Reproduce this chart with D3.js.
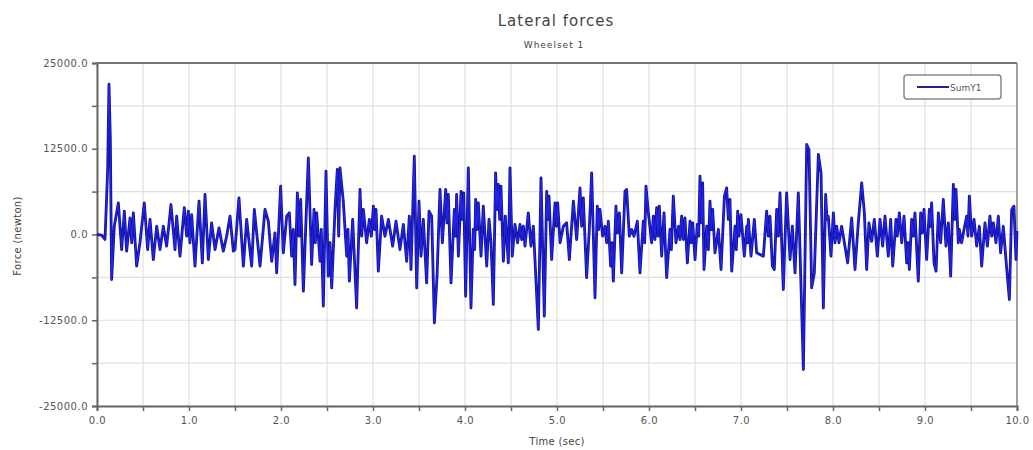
<!DOCTYPE html>
<html><head><meta charset="utf-8">
<script src="https://cdn.jsdelivr.net/npm/d3@7"></script>
<style>
html,body{margin:0;padding:0;background:#fff;}
svg{display:block;font-family:"DejaVu Sans",sans-serif;}
</style></head>
<body>
<svg id="chart" width="1033" height="450"></svg>
<script>
const title = "Lateral forces";
const subtitle = "Wheelset 1";
const xLabel = "Time (sec)";
const yLabel = "Force (newton)";
const seriesName = "SumY1";
const xTicks = [0,1,2,3,4,5,6,7,8,9,10];
const xMinorTicks = [0,0.5,1,1.5,2,2.5,3,3.5,4,4.5,5,5.5,6,6.5,7,7.5,8,8.5,9,9.5,10];
const yTicks = [25000,12500,0,-12500,-25000];
const yMinorTicks = [25000,18750,12500,6250,0,-6250,-12500,-18750,-25000];

const timeSec = [
0.000,0.050,0.087,0.116,0.130,0.145,0.159,0.188,0.232,0.268,0.297,0.322,0.359,0.377,0.395,0.431,0.467,0.514,0.551,0.576,
0.612,0.649,0.685,0.721,0.757,0.804,0.848,0.866,0.902,0.949,0.975,0.993,1.010,1.029,1.065,1.109,1.145,1.174,1.210,1.246,
1.283,1.326,1.373,1.409,1.446,1.482,1.500,1.543,1.591,1.627,1.681,1.710,
1.772,1.826,1.862,1.899,1.935,1.953,1.996,2.025,2.062,2.091,2.116,2.134,2.152,2.178,2.196,2.214,2.243,2.297,2.333,2.359,
2.373,2.388,2.424,2.438,2.460,2.489,2.514,2.533,2.551,2.587,2.612,2.627,2.641,2.677,2.714,2.728,2.743,2.779,2.822,2.859,
2.877,2.895,2.931,2.960,2.982,3.004,3.018,3.033,3.058,3.094,3.130,3.167,3.214,3.250,3.293,3.330,3.366,3.395,
3.413,3.449,3.475,3.500,3.522,3.547,3.583,3.609,3.638,3.667,3.696,3.728,3.754,3.790,3.804,3.819,3.848,3.884,3.899,3.909,
3.928,3.957,3.970,3.986,4.007,4.036,4.065,4.090,4.105,4.116,4.130,4.145,4.174,4.199,4.236,4.261,4.283,4.308,4.333,4.348,
4.362,4.377,4.391,4.417,4.438,4.471,4.489,4.514,4.543,4.572,4.598,4.616,4.634,4.652,4.688,4.717,4.743,4.797,4.826,4.862,
4.888,4.899,4.913,4.942,4.978,4.993,5.007,5.033,5.069,
5.105,5.134,5.178,5.214,5.250,5.268,5.286,5.322,5.351,5.377,5.413,5.438,5.453,5.467,5.496,5.522,5.540,5.558,5.583,5.598,
5.612,5.641,5.656,5.678,5.703,5.739,5.757,5.786,5.812,5.837,5.873,5.902,5.938,5.953,5.967,5.993,6.029,6.047,6.065,6.083,
6.098,6.112,6.138,6.163,6.192,6.228,6.243,6.264,6.293,6.322,6.337,6.355,6.373,6.391,6.417,6.446,6.460,6.475,6.500,6.525,
6.540,6.554,6.572,6.583,6.598,6.627,6.645,6.663,6.678,6.692,6.717,6.754,
6.783,6.820,6.844,6.862,6.880,6.899,6.935,6.949,6.964,6.978,7.000,7.036,7.062,7.072,7.080,7.109,7.145,7.170,7.206,7.243,
7.279,7.297,7.315,7.341,7.362,7.388,7.406,7.424,7.460,7.496,7.533,7.558,7.587,7.623,7.641,7.678,7.714,7.739,7.768,7.797,
7.841,7.870,7.895,7.920,7.935,7.949,7.978,8.004,8.022,8.040,8.065,8.094,8.130,8.159,8.203,8.239,8.275,8.312,8.341,8.366,
8.391,8.420,8.449,
8.482,8.511,8.540,8.565,8.601,8.627,8.649,8.685,8.699,8.721,8.747,8.772,8.801,8.815,8.830,8.855,8.873,8.891,8.927,8.953,
8.971,8.989,9.018,9.047,9.062,9.072,9.098,9.120,9.145,9.170,9.199,9.228,9.254,9.279,9.308,9.322,9.337,9.362,9.373,9.398,
9.424,9.453,9.467,9.482,9.507,9.533,9.562,9.591,9.616,9.652,9.678,9.706,9.725,9.743,9.772,9.797,9.822,9.851,9.880,9.917,
9.942,9.967,9.989,10.000
];
const forceN = [
0,-100,-730,9500,21900,13850,-6560,1200,4600,-2200,3400,-2430,2430,-1200,3160,-4600,-1200,4600,-2200,2200,
-3650,1200,-2200,1200,-1700,4370,-2200,2670,-3160,3900,-250,3400,-1200,2900,-4600,4860,-4130,5830,-3650,1700,
-2200,970,-2430,-250,2670,-2430,-2200,5350,-4600,2200,-4600,3650,
-4600,3650,1940,-3900,250,-5600,7050,-2670,2670,3160,-3160,730,-7300,6080,-250,5100,-8260,11175,-4370,3650,
-1200,3160,-3900,730,-10450,9230,-6080,-1200,-7780,3650,9475,-250,9720,4860,-3160,730,-6800,2200,-10700,6560,
-250,3650,-1200,2200,-250,4130,730,3650,-5350,2670,-250,2200,-1700,1940,-2200,1460,-3900,2670,
-5100,11420,-7780,4860,-3160,2200,-7050,3400,2670,-12875,-6080,6560,-1200,6560,1700,5830,-7050,3650,-250,5830,
-3160,6300,2200,6080,-9000,9720,-10700,730,-2200,5100,730,4600,-3160,4130,-4600,2200,-1200,-10200,8990,3650,
7290,2200,7050,-3900,2670,-4130,9720,-3160,1460,-1200,1460,-730,1215,-1700,3160,-1700,1215,-13850,8260,-11900,
6300,2200,5590,-3650,4600,1200,4600,-1200,1200,
1700,-3650,4860,-730,6800,1200,5350,-6300,730,8990,-9230,4130,730,3650,-250,1200,-1200,1940,-4600,-1200,
-6800,4130,250,3160,-5600,6300,6560,-250,730,-250,1940,-5600,1940,-1200,7050,3160,-1200,2670,-730,3900,
-250,4130,-3160,3160,-6300,730,-2200,5590,-1200,1200,-730,2670,-730,2430,-4130,1940,-1200,1700,-3650,1460,
-250,8500,1700,7530,-5100,1200,-2200,4860,730,3650,-2670,730,
-5100,5590,6800,2200,5100,-5350,1200,-2200,3400,-250,2900,-3160,1200,-1200,2200,-3160,2200,-2670,-2900,-3160,
3400,-250,2670,-4600,-5100,3650,-250,6080,-8020,6080,-3650,1200,-5600,6080,-2200,-19680,13120,12390,-7780,-5600,
11660,8990,-10700,5830,2200,2670,-3160,3160,-1200,1200,-1200,1200,-1700,-4130,2430,-5100,1700,7530,3160,-5100,
1700,-1000,2200,
-3160,2200,-1700,2670,-3160,2200,-4600,2200,-250,3160,-1200,2670,-4130,-1200,-5100,2200,-250,3160,-6800,3160,
250,3650,-3650,3650,1200,4600,-4130,-5350,3160,-1200,5100,-1700,1700,-6080,7290,2200,6560,-1200,730,-1200,
730,2670,-250,5590,-250,2200,-1700,1200,-4600,1700,-1700,2670,-250,1700,-1200,2670,-2670,1200,-3650,-9475,
3650,4130,-3650,500
];

const svg = d3.select("#chart");
const W = 1033, H = 450;
const m = {left:97, right:16, top:63, bottom:44};
const x = d3.scaleLinear().domain([0,10]).range([m.left, W - m.right]);
const y = d3.scaleLinear().domain([-25000,25000]).range([H - m.bottom, m.top]);
const fmt = v => (v < 0 ? "-" : "") + d3.format(".1f")(Math.abs(v));

// grid
const g = svg.append("g");
g.selectAll(".vg").data(xMinorTicks).enter().append("line")
  .attr("x1", d => x(d)).attr("x2", d => x(d))
  .attr("y1", y(25000)).attr("y2", y(-25000))
  .attr("stroke", "#e0e0e0").attr("stroke-width", 1.2);
g.selectAll(".hg").data(yMinorTicks).enter().append("line")
  .attr("x1", x(0)).attr("x2", x(10))
  .attr("y1", d => y(d)).attr("y2", d => y(d))
  .attr("stroke", "#e0e0e0").attr("stroke-width", 1.2);

// frame top/right
svg.append("line").attr("x1", x(0)).attr("x2", x(10)).attr("y1", y(25000)).attr("y2", y(25000))
  .attr("stroke", "#777").attr("stroke-width", 2);
svg.append("line").attr("x1", x(10)).attr("x2", x(10)).attr("y1", y(25000)).attr("y2", y(-25000))
  .attr("stroke", "#888").attr("stroke-width", 1.5);

// axes
const yAxis = d3.axisLeft(y).tickValues(yMinorTicks).tickSize(5).tickPadding(4)
  .tickFormat(d => yTicks.includes(d) ? fmt(d) : "");
const ya = svg.append("g").attr("transform", `translate(${x(0)},0)`).call(yAxis);
const xAxis = d3.axisBottom(x).tickValues(xMinorTicks).tickSize(5).tickPadding(6)
  .tickFormat(d => xTicks.includes(d) ? d3.format(".1f")(d) : "");
const xa = svg.append("g").attr("transform", `translate(0,${y(-25000)})`).call(xAxis);
[ya, xa].forEach(a => {
  a.select(".domain").attr("stroke", "#666").attr("stroke-width", 2);
  a.selectAll(".tick line").attr("stroke", "#666").attr("stroke-width", 1.5);
  a.selectAll(".tick text").attr("fill", "#555").style("font-size", "10px")
    .style("font-family", "'DejaVu Sans', sans-serif").style("letter-spacing", "0.5px");
});

// data line
const pts = timeSec.map((t, i) => [t, forceN[i]]);
const line = d3.line().x(d => x(d[0])).y(d => y(d[1]));
svg.append("path").datum(pts).attr("d", line)
  .attr("fill", "none").attr("stroke", "#10109a").attr("stroke-width", 2.8).attr("stroke-linejoin", "round");
svg.append("path").datum(pts).attr("d", line)
  .attr("fill", "none").attr("stroke", "#2424e6").attr("stroke-width", 1.2).attr("stroke-linejoin", "round");

// titles
svg.append("text").attr("x", 556).attr("y", 26).attr("text-anchor", "middle")
  .attr("fill", "#444").style("font-size", "15px").style("letter-spacing", "1px").text(title);
svg.append("text").attr("x", 554).attr("y", 48).attr("text-anchor", "middle")
  .attr("fill", "#444").style("font-size", "9px").style("letter-spacing", "1px").text(subtitle);
svg.append("text").attr("x", 557).attr("y", 445).attr("text-anchor", "middle")
  .attr("fill", "#444").style("font-size", "10px").style("letter-spacing", "0.3px").text(xLabel);
svg.append("text").attr("transform", "translate(21,236) rotate(-90)").attr("text-anchor", "middle")
  .attr("fill", "#444").style("font-size", "10px").style("letter-spacing", "0.3px").text(yLabel);

// legend
const lg = svg.append("g");
lg.append("rect").attr("x", 904).attr("y", 75).attr("width", 97).attr("height", 24).attr("rx", 3)
  .attr("fill", "#fff").attr("stroke", "#888").attr("stroke-width", 1.5);
lg.append("line").attr("x1", 917).attr("x2", 949).attr("y1", 87).attr("y2", 87)
  .attr("stroke", "#22228a").attr("stroke-width", 2);
lg.append("text").attr("x", 950).attr("y", 90.5).attr("fill", "#555")
  .style("font-size", "9px").text(seriesName);
</script>
</body></html>
